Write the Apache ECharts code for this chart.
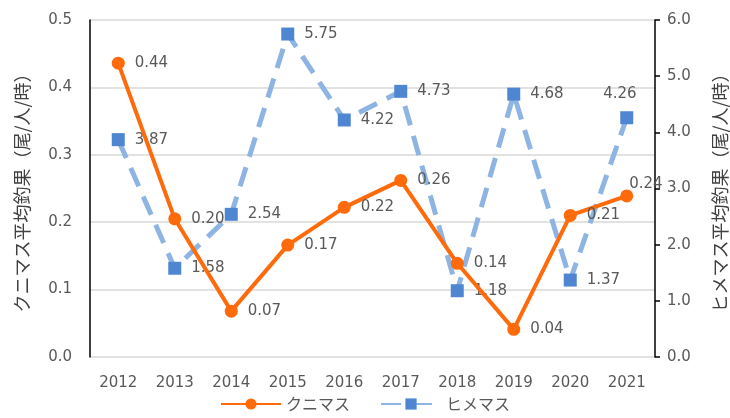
<!DOCTYPE html>
<html>
<head>
<meta charset="utf-8">
<script src="https://cdn.jsdelivr.net/npm/echarts@6/dist/echarts.min.js"></script>
<style>
  html, body { margin: 0; padding: 0; background: #fff; }
  #chart { width: 730px; height: 418px; }
</style>
</head>
<body>
<div id="chart"></div>
<script>
// 年
var years = ['2012', '2013', '2014', '2015', '2016', '2017', '2018', '2019', '2020', '2021']
// クニマス平均釣果 (左軸)
var kunimasu = [0.436, 0.205, 0.068, 0.166, 0.222, 0.262, 0.139, 0.041, 0.210, 0.239]
// ヒメマス平均釣果 (右軸)
var himemasu = [3.87, 1.58, 2.54, 5.75, 4.22, 4.73, 1.18, 4.68, 1.37, 4.26]

var font = 'DejaVu Sans, Noto Sans CJK JP, sans-serif'
var gray = '#595959'

// 最後の点だけラベル位置をずらす
function withLastLabel(arr, pos) {
    return arr.map(function (v, i) {
        if (i === arr.length - 1) return { value: v, label: { position: pos } }
        return v
    })
}

var chart = echarts.init(document.getElementById('chart'))

chart.setOption({
    animation: false,
    textStyle: { fontFamily: font },
    grid: { left: 90, right: 75, top: 20, bottom: 61, outerBoundsMode: 'none', containLabel: false },
    legend: {
        bottom: 1,
        left: 'center',
        itemWidth: 60,
        itemHeight: 14,
        itemGap: 30,
        textStyle: { color: gray, fontSize: 16, fontFamily: 'Noto Sans CJK JP' },
        data: ['クニマス', 'ヒメマス']
    },
    xAxis: {
        type: 'category',
        data: years,
        boundaryGap: true,
        axisLine: { show: false },
        axisTick: { show: false },
        axisLabel: { color: gray, fontSize: 15, margin: 19 }
    },
    yAxis: [
        {
            type: 'value',
            min: 0, max: 0.5, interval: 0.1,
            name: 'クニマス平均釣果（尾/人/時）',
            nameLocation: 'middle',
            nameRotate: 90,
            nameGap: 59,
            nameTextStyle: { color: '#404040', fontSize: 18, fontFamily: 'Noto Sans CJK JP' },
            axisLine: { show: true, lineStyle: { color: '#000', width: 1.5 } },
            axisTick: { show: false },
            axisLabel: { color: gray, fontSize: 15, margin: 18, formatter: function (v) { return v.toFixed(1) } },
            splitLine: { lineStyle: { color: '#d9d9d9', width: 1.5 } }
        },
        {
            type: 'value',
            min: 0, max: 6, interval: 1,
            position: 'right',
            name: 'ヒメマス平均釣果（尾/人/時）',
            nameLocation: 'middle',
            nameRotate: 90,
            nameGap: 56,
            nameTextStyle: { color: '#404040', fontSize: 18, fontFamily: 'Noto Sans CJK JP' },
            axisLine: { show: true, lineStyle: { color: '#000', width: 1.5 } },
            axisTick: { show: true, length: 5, lineStyle: { color: '#000', width: 1.5 } },
            axisLabel: { color: gray, fontSize: 15, margin: 12, formatter: function (v) { return v.toFixed(1) } },
            splitLine: { show: false }
        }
    ],
    series: [
        {
            name: 'ヒメマス',
            type: 'line',
            yAxisIndex: 1,
            data: withLastLabel(himemasu, [-17, -25]),
            symbol: 'rect',
            symbolSize: 13,
            lineStyle: { color: '#8db4e2', width: 5, type: [20, 11] },
            itemStyle: { color: '#4f86d2' },
            label: {
                show: true, position: 'right', distance: 10,
                color: gray, fontSize: 15,
                formatter: function (p) { return p.value.toFixed(2) }
            },
            z: 2
        },
        {
            name: 'クニマス',
            type: 'line',
            yAxisIndex: 0,
            data: withLastLabel(kunimasu, [9, -13]),
            symbol: 'circle',
            symbolSize: 13,
            lineStyle: { color: '#ff6a0a', width: 4 },
            itemStyle: { color: '#ff6a0a' },
            label: {
                show: true, position: 'right', distance: 10,
                color: gray, fontSize: 15,
                formatter: function (p) { return p.value.toFixed(2) }
            },
            z: 3
        }
    ]
})
</script>
</body>
</html>
